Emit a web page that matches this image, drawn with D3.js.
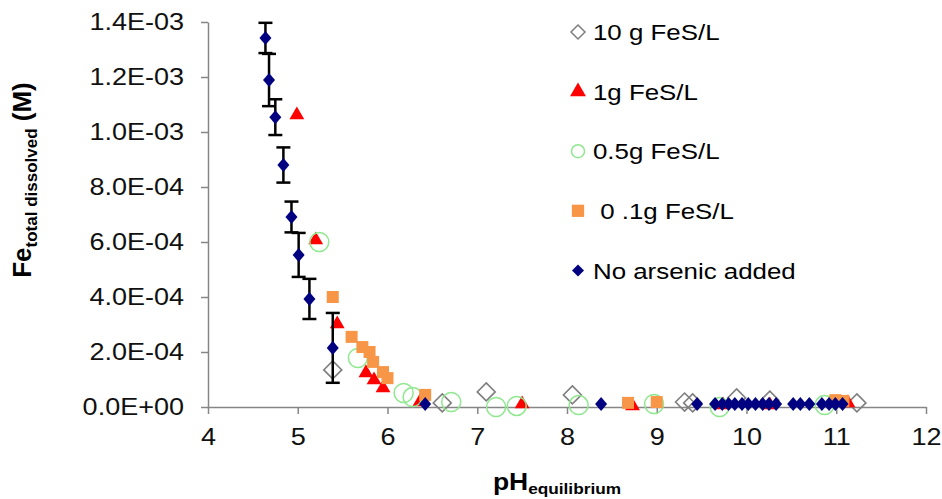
<!DOCTYPE html>
<html>
<head>
<meta charset="utf-8">
<script src="https://d3js.org/d3.v7.min.js"></script>
<style>
  body { margin: 0; background: #fff; }
  svg text { font-family: Arial, "Liberation Sans", sans-serif; fill: #000; }
  /* the reference picture is stretched sideways a little */
  .wide { transform-box: fill-box; transform: scaleX(1.15); }
</style>
</head>
<body>
<svg id="chart" width="942" height="499"></svg>
<script>
// 10 g FeS/L (회색 빈 다이아몬드)
const ph10g = [5.39, 6.61, 7.10, 8.06, 9.31, 9.40, 9.89, 10.26, 11.23];
const fe10g = [1.35e-4, 1.5e-5, 5.5e-5, 4.4e-5, 1.8e-5, 1.5e-5, 3.3e-5, 2.5e-5, 1.5e-5];

// 1 g FeS/L (빨간 삼각형)
const ph1g = [4.99, 5.20, 5.44, 5.76, 5.85, 5.95, 6.36, 7.50, 8.73, 9.74, 10.26, 11.13];
const fe1g = [1.062e-3, 6.07e-4, 3.02e-4, 1.24e-4, 9.8e-5, 6.9e-5, 1.8e-5, 1.1e-5, 4e-6, 7e-6, 7e-6, 1.5e-5];

// 0.5 g FeS/L (초록 빈 원)
const ph05g = [5.24, 5.67, 6.18, 6.28, 6.71, 7.21, 7.44, 8.13, 8.97, 9.70, 10.87];
const fe05g = [6.0e-4, 1.78e-4, 5.1e-5, 3.6e-5, 1.8e-5, 0, 4e-6, 7e-6, 1.1e-5, 0, 7e-6];

// 0.1 g FeS/L (주황 사각형)
const ph01g = [5.39, 5.60, 5.72, 5.80, 5.84, 5.95, 6.00, 6.42, 8.68, 9.00, 10.99, 11.08];
const fe01g = [4.0e-4, 2.55e-4, 2.18e-4, 2.0e-4, 1.64e-4, 1.27e-4, 1.05e-4, 4.4e-5, 1.5e-5, 1.8e-5, 2.5e-5, 2.2e-5];

// No arsenic added (남색 다이아몬드 + 오차막대)
const phNoAs = [4.64, 4.68, 4.75, 4.84, 4.93, 5.01, 5.13, 5.39, 6.42, 8.38,
                9.45, 9.65, 9.73, 9.80, 9.87, 9.95, 10.02, 10.10, 10.18, 10.25,
                10.33, 10.52, 10.60, 10.70, 10.84, 10.92, 10.99, 11.07];
const feNoAs = [1.342e-3, 1.189e-3, 1.054e-3, 8.8e-4, 6.91e-4, 5.53e-4, 3.93e-4, 2.15e-4, 1.1e-5, 1.1e-5,
                1.1e-5, 1.1e-5, 1.1e-5, 1.1e-5, 1.1e-5, 1.1e-5, 1.1e-5, 1.1e-5, 1.1e-5, 1.1e-5,
                1.1e-5, 1.1e-5, 1.1e-5, 1.1e-5, 1.1e-5, 1.1e-5, 1.1e-5, 1.1e-5];
const errNoAs = [5.5e-5, 9.5e-5, 6.5e-5, 6.4e-5, 5.6e-5, 8.0e-5, 7.3e-5, 1.27e-4, 0, 0,
                 0, 0, 0, 0, 0, 0, 0, 0, 0, 0,
                 0, 0, 0, 0, 0, 0, 0, 0];

// 축 눈금
const xTicks = [4, 5, 6, 7, 8, 9, 10, 11, 12];
const yTicks = [0, 2e-4, 4e-4, 6e-4, 8e-4, 1.0e-3, 1.2e-3, 1.4e-3];

const legendLabels = ["10 g FeS/L", "1g FeS/L", "0.5g FeS/L", " 0 .1g FeS/L", "No arsenic added"];

const svg = d3.select("#chart");

const x = d3.scaleLinear().domain([4, 12]).range([208, 926]);
const y = d3.scaleLinear().domain([0, 1.4e-3]).range([407, 22]);

const axisColor = "#868686";

// 1.4E-03 형식
function fmtE(d) {
    if (d === 0) return "0.0E+00";
    const parts = d.toExponential(1).split("e");
    const e = +parts[1];
    return parts[0] + "E" + (e < 0 ? "-" : "+") + String(Math.abs(e)).padStart(2, "0");
}

// 가로 세로 비율을 줄 수 있는 다이아몬드 기호
function diamondType(ratio) {
    return {
        draw(context, size) {
            const r = Math.sqrt(size) / 2;
            context.moveTo(0, -r * ratio);
            context.lineTo(r, 0);
            context.lineTo(0, r * ratio);
            context.lineTo(-r, 0);
            context.closePath();
        }
    };
}

// y축
const yAxis = svg.append("g")
    .attr("transform", `translate(${x(4)},0)`)
    .call(d3.axisLeft(y).tickValues(yTicks).tickFormat(fmtE).tickSize(7).tickSizeOuter(0).tickPadding(17));

// x축
const xAxis = svg.append("g")
    .attr("transform", `translate(0,${y(0)})`)
    .call(d3.axisBottom(x).tickValues(xTicks).tickFormat(d3.format("d")).tickSize(7).tickSizeOuter(0).tickPadding(14));

[yAxis, xAxis].forEach(g => {
    g.select(".domain").attr("stroke", axisColor).attr("stroke-width", 1.5);
    g.selectAll(".tick line").attr("stroke", axisColor).attr("stroke-width", 1.5);
    g.selectAll(".tick text")
        .attr("class", "wide")
        .style("font-size", "23.5px")
        .style("fill", "#111");
});
yAxis.selectAll(".tick text").style("transform-origin", "right center");
xAxis.selectAll(".tick text").style("transform-origin", "center");

// 축 제목
const yTitle = svg.append("text")
    .attr("transform", "translate(31,180) rotate(-90)")
    .attr("text-anchor", "middle")
    .style("font-weight", "bold");
yTitle.append("tspan").style("font-size", "26px").text("Fe");
yTitle.append("tspan").style("font-size", "17px").attr("dy", 6).text("total dissolved");
yTitle.append("tspan").style("font-size", "26px").attr("dy", -6).text(" (M)");

const xTitle = svg.append("text")
    .attr("class", "wide")
    .style("transform-origin", "center")
    .attr("x", 557)
    .attr("y", 490)
    .attr("text-anchor", "middle")
    .style("font-weight", "bold");
xTitle.append("tspan").style("font-size", "23px").text("pH");
xTitle.append("tspan").style("font-size", "15px").attr("dy", 4).text("equilibrium");

const plot = svg.append("g");

// 10 g FeS/L
plot.selectAll(".m10g")
    .data(d3.zip(ph10g, fe10g))
    .enter()
    .append("path")
    .attr("class", "m10g")
    .attr("transform", d => `translate(${x(d[0])},${y(d[1])})`)
    .attr("d", d3.symbol().type(diamondType(1)).size(324))
    .attr("fill", "none")
    .attr("stroke", "#7f7f7f")
    .attr("stroke-width", 1.6);

// 1 g FeS/L
plot.selectAll(".m1g")
    .data(d3.zip(ph1g, fe1g))
    .enter()
    .append("path")
    .attr("class", "m1g")
    .attr("transform", d => `translate(${x(d[0])},${y(d[1])})`)
    .attr("d", d3.symbol().type(d3.symbolTriangle).size(95))
    .attr("fill", "#ff0000");

// 0.5 g FeS/L
plot.selectAll(".m05g")
    .data(d3.zip(ph05g, fe05g))
    .enter()
    .append("circle")
    .attr("class", "m05g")
    .attr("cx", d => x(d[0]))
    .attr("cy", d => y(d[1]))
    .attr("r", 9.5)
    .attr("fill", "none")
    .attr("stroke", "#8fe88f")
    .attr("stroke-width", 1.5);

// 0.1 g FeS/L
plot.selectAll(".m01g")
    .data(d3.zip(ph01g, fe01g))
    .enter()
    .append("path")
    .attr("class", "m01g")
    .attr("transform", d => `translate(${x(d[0])},${y(d[1])})`)
    .attr("d", d3.symbol().type(d3.symbolSquare).size(144))
    .attr("fill", "#f79646");

// No arsenic added: 오차막대
const noAs = d3.zip(phNoAs, feNoAs, errNoAs);
const bars = plot.selectAll(".err")
    .data(noAs.filter(d => d[2] > 0))
    .enter()
    .append("g")
    .attr("class", "err")
    .attr("stroke", "#000")
    .attr("stroke-width", 2.5);

bars.append("line")
    .attr("x1", d => x(d[0])).attr("x2", d => x(d[0]))
    .attr("y1", d => y(d[1] - d[2])).attr("y2", d => y(d[1] + d[2]));
bars.append("line")
    .attr("x1", d => x(d[0]) - 7).attr("x2", d => x(d[0]) + 7)
    .attr("y1", d => y(d[1] + d[2])).attr("y2", d => y(d[1] + d[2]));
bars.append("line")
    .attr("x1", d => x(d[0]) - 7).attr("x2", d => x(d[0]) + 7)
    .attr("y1", d => y(d[1] - d[2])).attr("y2", d => y(d[1] - d[2]));

plot.selectAll(".mNoAs")
    .data(noAs)
    .enter()
    .append("path")
    .attr("class", "mNoAs")
    .attr("transform", d => `translate(${x(d[0])},${y(d[1])})`)
    .attr("d", d3.symbol().type(diamondType(1.17)).size(144))
    .attr("fill", "#000080");

// 범례
const legendSymbols = [
    { type: diamondType(1), size: 196, fill: "none", stroke: "#7f7f7f" },
    { type: d3.symbolTriangle, size: 110, fill: "#ff0000", stroke: "none" },
    { type: d3.symbolCircle, size: 133, fill: "none", stroke: "#8fe88f" },
    { type: d3.symbolSquare, size: 150, fill: "#f79646", stroke: "none" },
    { type: diamondType(1), size: 144, fill: "#000080", stroke: "none" }
];

const legend = svg.append("g");
const rows = legend.selectAll(".row")
    .data(legendLabels)
    .enter()
    .append("g")
    .attr("class", "row")
    .attr("transform", (d, i) => `translate(578,${32 + i * 59.6})`);

rows.append("path")
    .attr("d", (d, i) => d3.symbol().type(legendSymbols[i].type).size(legendSymbols[i].size)())
    .attr("fill", (d, i) => legendSymbols[i].fill)
    .attr("stroke", (d, i) => legendSymbols[i].stroke)
    .attr("stroke-width", 1.5);

rows.append("text")
    .attr("class", "wide")
    .style("transform-origin", "left center")
    .attr("x", 15)
    .attr("dy", "0.36em")
    .style("font-size", "22.5px")
    .style("white-space", "pre")
    .text(d => d);
</script>
</body>
</html>
